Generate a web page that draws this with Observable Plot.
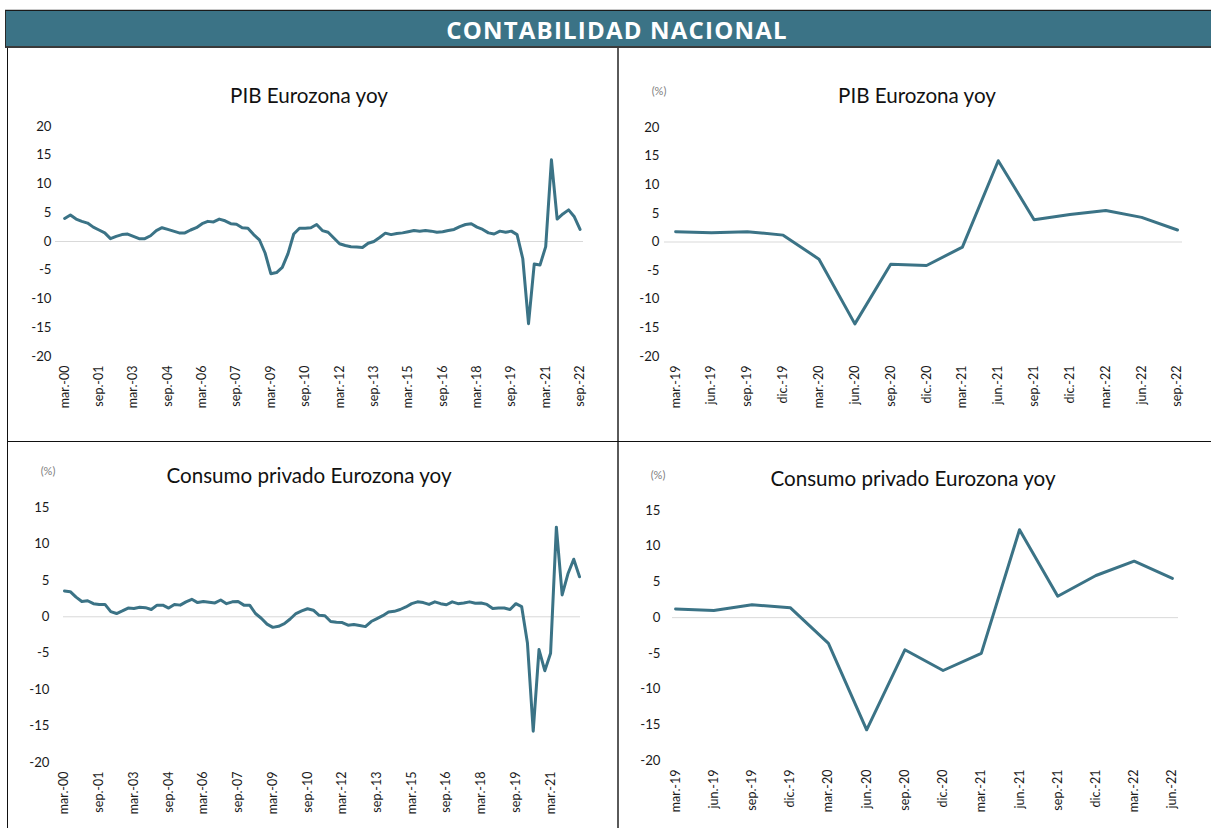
<!DOCTYPE html>
<html>
<head>
<meta charset="utf-8">
<script src="https://cdn.jsdelivr.net/npm/d3@7"></script>
<script src="https://cdn.jsdelivr.net/npm/@observablehq/plot@0.6"></script>
<style>
  html, body { margin: 0; padding: 0; background: #fff; }
  body { width: 1211px; height: 828px; position: relative; overflow: hidden; font-family: Lato, "Open Sans", sans-serif; }
  #topline { position: absolute; left: 5px; top: 9px; width: 1206px; height: 1px; background: #c8c8c8; }
  #header { position: absolute; left: 5px; top: 10px; width: 1206px; height: 35px; background: #3b7386;
    border-top: 1.5px solid #1a1a1a; border-bottom: 2px solid #3a3a3a; border-left: 1.5px solid #2a2a2a; box-sizing: content-box;
    color: #fff; font-family: "Open Sans", Lato, sans-serif; font-weight: 700; font-size: 24px; letter-spacing: 1.2px; line-height: 37px; text-align: center; }
  #header span { position: absolute; left: 611px; transform: translateX(-50%); white-space: nowrap; top: 0; }
  .vline { position: absolute; }
  .chart { position: absolute; }
  .title { position: absolute; transform: translate(-50%, -50%); white-space: nowrap; font-size: 20.6px; color: #111; font-family: Lato, sans-serif; }
  .unit { position: absolute; transform: translate(-50%, -50%); white-space: nowrap; font-size: 11px; color: #808080; font-family: Lato, sans-serif; }
</style>
</head>
<body>
<div id="topline"></div>
<div id="header"><span>CONTABILIDAD NACIONAL</span></div>
<div class="vline" style="left:6.5px;top:48px;width:1.3px;height:780px;background:#111;"></div>
<div class="vline" style="left:617px;top:48px;width:2px;height:780px;background:#5a5a5a;"></div>
<div class="vline" style="left:7px;top:440.5px;width:1204px;height:1.4px;background:#111;"></div>

<div class="title" style="left:309px;top:95px;">PIB Eurozona yoy</div>
<div class="title" style="left:917px;top:95px;">PIB Eurozona yoy</div>
<div class="title" style="left:309px;top:475px;">Consumo privado Eurozona yoy</div>
<div class="title" style="left:913px;top:478px;">Consumo privado Eurozona yoy</div>
<div class="unit" style="left:659px;top:90px;">(%)</div>
<div class="unit" style="left:48px;top:470px;">(%)</div>
<div class="unit" style="left:658px;top:474px;">(%)</div>

<div id="tl" class="chart" style="left:0px;top:100px;"></div>
<div id="tr" class="chart" style="left:620px;top:100px;"></div>
<div id="bl" class="chart" style="left:0px;top:480px;"></div>
<div id="br" class="chart" style="left:620px;top:480px;"></div>

<script>
// ---- Data (quarterly, year-on-year %) ----
// PIB Eurozona, mar.-00 .. sep.-22
const pibLong = [
  4.0, 4.6, 3.9, 3.5, 3.2, 2.5, 2.0, 1.5, 0.5, 0.9,
  1.2, 1.3, 0.9, 0.5, 0.5, 1.0, 1.9, 2.4, 2.1, 1.8,
  1.5, 1.5, 2.0, 2.4, 3.1, 3.5, 3.4, 3.9, 3.6, 3.1,
  3.0, 2.4, 2.3, 1.2, 0.3, -2.0, -5.6, -5.4, -4.5, -2.1,
  1.3, 2.3, 2.3, 2.4, 2.95, 1.9, 1.6, 0.6, -0.4, -0.7,
  -0.9, -0.95, -1.05, -0.3, 0.0, 0.7, 1.45, 1.2, 1.4, 1.5,
  1.7, 1.9, 1.8, 1.9, 1.8, 1.6, 1.7, 1.9, 2.1, 2.6,
  2.95, 3.1, 2.5, 2.1, 1.5, 1.3, 1.8, 1.6, 1.8, 1.2,
  -3.0, -14.3, -3.9, -4.1, -0.9, 14.2, 3.9, 4.8, 5.5, 4.3, 2.1
];
// Consumo privado Eurozona, mar.-00 .. jun.-22
const consumoLong = [
  3.55, 3.45, 2.7, 2.1, 2.2, 1.8, 1.7, 1.7, 0.7, 0.45,
  0.8, 1.2, 1.15, 1.3, 1.25, 1.0, 1.6, 1.6, 1.2, 1.7,
  1.6, 2.05, 2.4, 1.95, 2.1, 2.0, 1.9, 2.3, 1.8, 2.05,
  2.1, 1.6, 1.6, 0.45, -0.2, -1.0, -1.45, -1.3, -0.95, -0.3,
  0.45, 0.8, 1.1, 0.9, 0.2, 0.15, -0.65, -0.75, -0.8, -1.15,
  -1.05, -1.2, -1.35, -0.65, -0.25, 0.15, 0.65, 0.75, 1.0, 1.35,
  1.8, 2.05, 1.95, 1.7, 2.05, 1.8, 1.65, 2.05, 1.8, 1.9,
  2.05, 1.85, 1.9, 1.7, 1.15, 1.2, 1.2, 1.0, 1.8, 1.4,
  -3.6, -15.7, -4.5, -7.4, -5.0, 12.3, 3.0, 5.9, 7.9, 5.5
];
const longTickLabels = ["mar.-00","sep.-01","mar.-03","sep.-04","mar.-06","sep.-07","mar.-09","sep.-10",
  "mar.-12","sep.-13","mar.-15","sep.-16","mar.-18","sep.-19","mar.-21","sep.-22"];
const longTickStep = 6; // one label every 6 quarters

const shortQuarters = ["mar.-19","jun.-19","sep.-19","dic.-19","mar.-20","jun.-20","sep.-20","dic.-20",
  "mar.-21","jun.-21","sep.-21","dic.-21","mar.-22","jun.-22","sep.-22"];
const pibShort = [1.8, 1.6, 1.8, 1.2, -3.0, -14.3, -3.9, -4.1, -0.9, 14.2, 3.9, 4.8, 5.5, 4.3, 2.1];
const consumoShort = [1.2, 1.0, 1.8, 1.4, -3.6, -15.7, -4.5, -7.4, -5.0, 12.3, 3.0, 5.9, 7.9, 5.5];

const yTicksPib = [-20, -15, -10, -5, 0, 5, 10, 15, 20];
const yTicksCons = [-20, -15, -10, -5, 0, 5, 10, 15];

// ---- Drawing ----
const LINE = "#3b7386";
function chart(el, cfg) {
  const data = cfg.values.map((v, i) => ({i, v}));
  const p = Plot.plot({
    width: cfg.width, height: cfg.height,
    marginLeft: cfg.ml, marginRight: cfg.mr, marginTop: cfg.mt, marginBottom: cfg.mb,
    x: {type: "linear", domain: cfg.xd, axis: null},
    y: {domain: cfg.yd, axis: null},
    style: {fontFamily: "Lato, sans-serif", color: "#1a1a1a", background: "transparent", overflow: "visible"},
    marks: [
      Plot.ruleY([0], {stroke: "#d9d9d9", strokeWidth: 1}),
      Plot.axisY({ticks: cfg.yticks, tickSize: 0, tickPadding: cfg.ypad, tickFormat: d => String(d), label: null, fontSize: 13.2}),
      Plot.axisX({ticks: cfg.xticks, tickSize: 0, tickPadding: 9, tickRotate: -90, tickFormat: cfg.xfmt, label: null, fontSize: 12.5}),
      Plot.lineY(data, {x: "i", y: "v", stroke: LINE, strokeWidth: 3, strokeLinejoin: "round", strokeLinecap: "round"})
    ]
  });
  document.getElementById(el).appendChild(p);
}

const longTickIdxTL = longTickLabels.map((_, k) => k * longTickStep);
const longTickIdxBL = longTickIdxTL.filter(i => i < consumoLong.length);

chart("tl", {values: pibLong, width: 610, height: 340, ml: 55, mr: 27, mt: 26, mb: 84,
  xd: [-1.6, 90.6], yd: [-20, 20], yticks: yTicksPib, ypad: 4,
  xticks: longTickIdxTL, xfmt: i => longTickLabels[i / longTickStep]});

chart("tr", {values: pibShort, width: 591, height: 340, ml: 44, mr: 29, mt: 27, mb: 84,
  xd: [-0.31, 14.14], yd: [-20, 20], yticks: yTicksPib, ypad: 5,
  xticks: d3.range(shortQuarters.length), xfmt: i => shortQuarters[i]});

chart("bl", {values: consumoLong, width: 610, height: 348, ml: 63, mr: 30, mt: 27, mb: 66,
  xd: [-0.17, 89.17], yd: [-20, 15], yticks: yTicksCons, ypad: 14,
  xticks: longTickIdxBL, xfmt: i => longTickLabels[i / longTickStep]});

chart("br", {values: consumoShort, width: 591, height: 348, ml: 52, mr: 33, mt: 30, mb: 68,
  xd: [-0.08, 13.16], yd: [-20, 15], yticks: yTicksCons, ypad: 12,
  xticks: d3.range(consumoShort.length), xfmt: i => shortQuarters[i]});
</script>
</body>
</html>
